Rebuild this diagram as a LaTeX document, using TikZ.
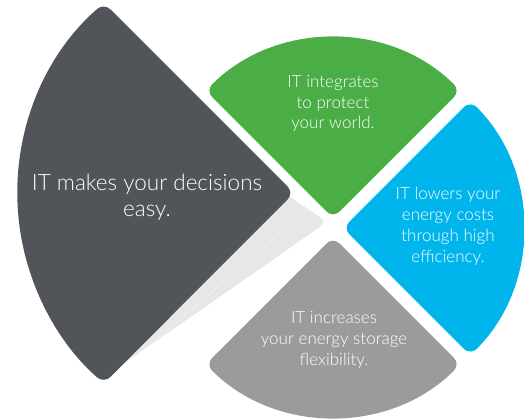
\documentclass[tikz,border=0pt]{standalone}
\usepackage{fontspec}
\setmainfont{Lato Light}
\usetikzlibrary{positioning}
\definecolor{slicedark}{RGB}{81,84,88}
\definecolor{slicegreen}{RGB}{74,173,69}
\definecolor{sliceblue}{RGB}{0,181,236}
\definecolor{slicegray}{RGB}{155,155,153}
\definecolor{slicefade}{RGB}{231,231,231}
\begin{document}
\begin{tikzpicture}[
                x=1pt,y=1pt,
                petal/.style={rounded corners=9pt},
                every node/.append style={text=white,align=center,anchor=base,
                  font=\fontsize{17}{20.7}\selectfont}
            ]
                \useasboundingbox (0,0) rectangle (524,418);
                \coordinate (D) at (294,225);
                \coordinate (G) at (333,200);
                \coordinate (B) at (343,190);
                \coordinate (S) at (333,181);
                % soft shadow behind the big slice
                \fill[slicefade,rounded corners=8pt] (327,196) -- (250,248) -- (150,168) -- (116,49) -- cycle;
                \draw[white,opacity=.5,line width=.6pt] (301,203) -- (118,45);
                \fill[slicedark,petal] (D) -- (104,415) arc[start angle=131,end angle=229,radius=252] -- cycle;
                \fill[slicegreen,petal] (G) -- ++(135:180) arc[start angle=135,end angle=45,radius=180] -- cycle;
                \fill[sliceblue,petal] (B) -- ++(45:180) arc[start angle=45,end angle=-45,radius=180] -- cycle;
                \fill[slicegray,petal] (S) -- ++(-45:180) arc[start angle=-45,end angle=-135,radius=180] -- cycle;
                % texts, placed by the baseline of their last line
                \node (decide)  at (147,201) [font=\fontsize{22.5}{26.5}\selectfont] {IT makes your decisions\\easy.};
                \node (protect) at (333,289) {IT integrates\\to protect\\your world.};
                \node (lower)   at (448,156) {IT lowers your\\energy costs\\through high\\efficiency.};
                \node (store)   at (334,53)  {IT increases\\your energy storage\\flexibility.};
            \end{tikzpicture}
\end{document}
